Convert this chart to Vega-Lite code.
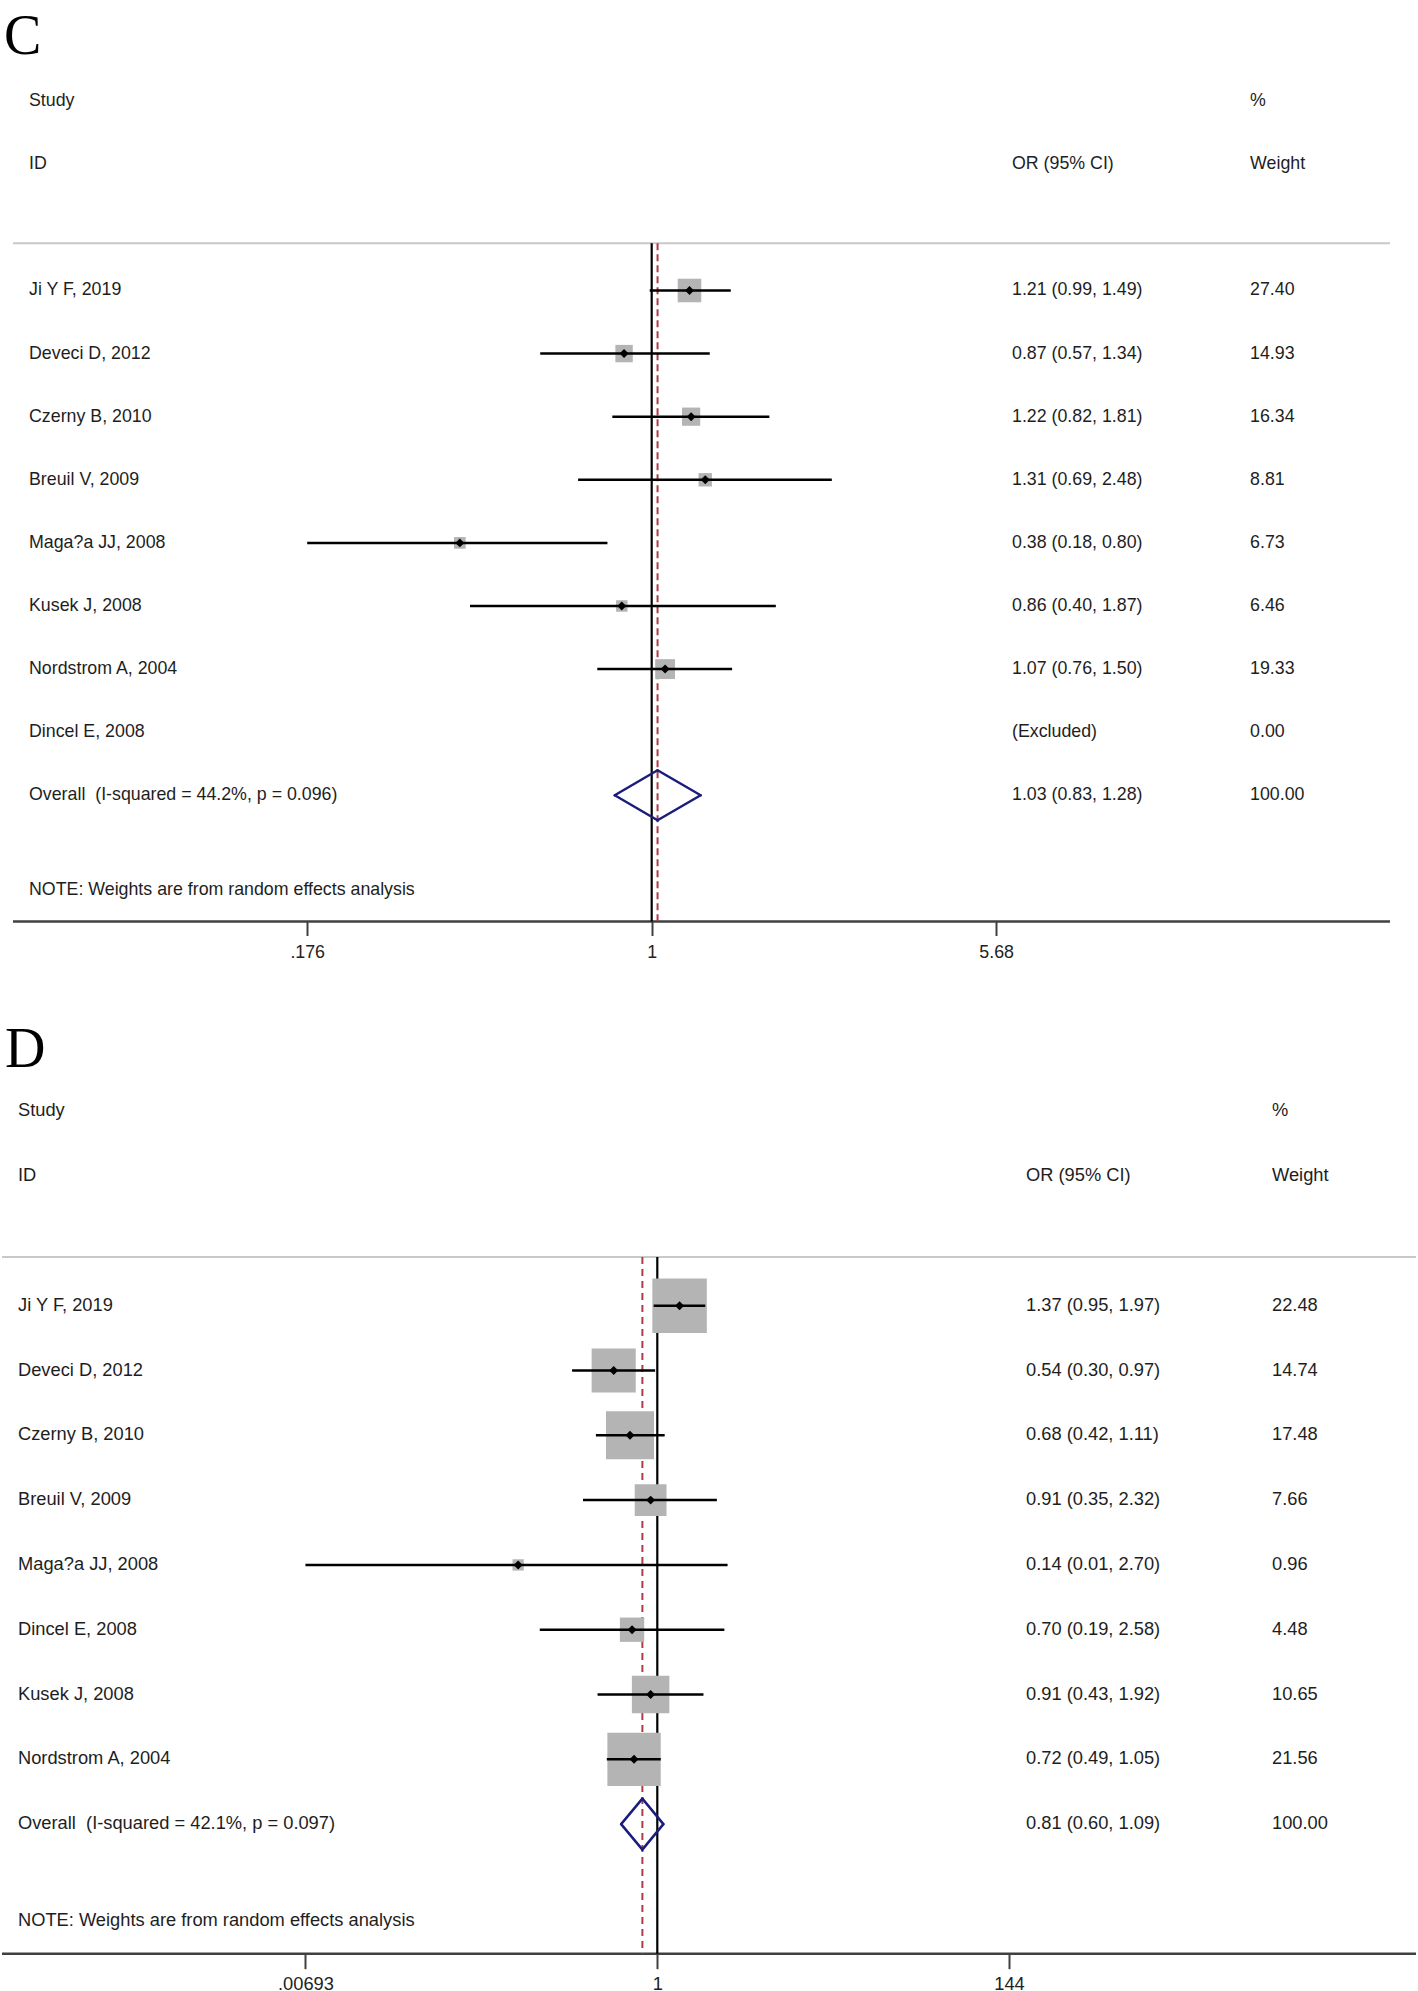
{
  "$schema": "https://vega.github.io/schema/vega-lite/v6.json",
  "padding": {"top": 8, "left": 0, "right": 0, "bottom": 0},
  "background": "white",
  "bounds": "flush",
  "spacing": 156,
  "resolve": {"scale": {"size": "independent"}},
  "config": {"view": {"stroke": null}},
  "datasets": {
    "rows": [
      {"panel": "C", "type": "study", "study": "Ji Y F, 2019", "or": 1.21, "lo": 0.99, "hi": 1.49, "weight": 27.40, "ci": "1.21 (0.99, 1.49)"},
      {"panel": "C", "type": "study", "study": "Deveci D, 2012", "or": 0.87, "lo": 0.57, "hi": 1.34, "weight": 14.93, "ci": "0.87 (0.57, 1.34)"},
      {"panel": "C", "type": "study", "study": "Czerny B, 2010", "or": 1.22, "lo": 0.82, "hi": 1.81, "weight": 16.34, "ci": "1.22 (0.82, 1.81)"},
      {"panel": "C", "type": "study", "study": "Breuil V, 2009", "or": 1.31, "lo": 0.69, "hi": 2.48, "weight": 8.81, "ci": "1.31 (0.69, 2.48)"},
      {"panel": "C", "type": "study", "study": "Maga?a JJ, 2008", "or": 0.38, "lo": 0.176, "hi": 0.80, "weight": 6.73, "ci": "0.38 (0.18, 0.80)"},
      {"panel": "C", "type": "study", "study": "Kusek J, 2008", "or": 0.86, "lo": 0.40, "hi": 1.87, "weight": 6.46, "ci": "0.86 (0.40, 1.87)"},
      {"panel": "C", "type": "study", "study": "Nordstrom A, 2004", "or": 1.07, "lo": 0.76, "hi": 1.50, "weight": 19.33, "ci": "1.07 (0.76, 1.50)"},
      {"panel": "C", "type": "excluded", "study": "Dincel E, 2008", "weight": 0.00, "ci": "(Excluded)"},
      {"panel": "C", "type": "overall", "study": "Overall\u00a0 (I-squared = 44.2%, p = 0.096)", "or": 1.03, "lo": 0.83, "hi": 1.28, "weight": 100.00, "ci": "1.03 (0.83, 1.28)"},
      {"panel": "D", "type": "study", "study": "Ji Y F, 2019", "or": 1.37, "lo": 0.95, "hi": 1.97, "weight": 22.48, "ci": "1.37 (0.95, 1.97)"},
      {"panel": "D", "type": "study", "study": "Deveci D, 2012", "or": 0.54, "lo": 0.30, "hi": 0.97, "weight": 14.74, "ci": "0.54 (0.30, 0.97)"},
      {"panel": "D", "type": "study", "study": "Czerny B, 2010", "or": 0.68, "lo": 0.42, "hi": 1.11, "weight": 17.48, "ci": "0.68 (0.42, 1.11)"},
      {"panel": "D", "type": "study", "study": "Breuil V, 2009", "or": 0.91, "lo": 0.35, "hi": 2.32, "weight": 7.66, "ci": "0.91 (0.35, 2.32)"},
      {"panel": "D", "type": "study", "study": "Maga?a JJ, 2008", "or": 0.14, "lo": 0.00693, "hi": 2.70, "weight": 0.96, "ci": "0.14 (0.01, 2.70)"},
      {"panel": "D", "type": "study", "study": "Dincel E, 2008", "or": 0.70, "lo": 0.19, "hi": 2.58, "weight": 4.48, "ci": "0.70 (0.19, 2.58)"},
      {"panel": "D", "type": "study", "study": "Kusek J, 2008", "or": 0.91, "lo": 0.43, "hi": 1.92, "weight": 10.65, "ci": "0.91 (0.43, 1.92)"},
      {"panel": "D", "type": "study", "study": "Nordstrom A, 2004", "or": 0.72, "lo": 0.49, "hi": 1.05, "weight": 21.56, "ci": "0.72 (0.49, 1.05)"},
      {"panel": "D", "type": "overall", "study": "Overall\u00a0 (I-squared = 42.1%, p = 0.097)", "or": 0.81, "lo": 0.60, "hi": 1.09, "weight": 100.00, "ci": "0.81 (0.60, 1.09)"}
    ]
  },
  "vconcat": [
    {
      "width": 1418,
      "height": 860.5,
      "title": {"text": "C", "anchor": "start", "frame": "group", "font": "Liberation Serif", "fontSize": 56, "fontWeight": "normal", "color": "#000000", "baseline": "alphabetic", "offset": -48.5, "dx": 4},
      "data": {"name": "rows"},
      "transform": [{"filter": "datum.panel === 'C'"}],
      "encoding": {
        "y": {"field": "study", "type": "nominal", "axis": null,
              "scale": {"type": "point", "round": false, "padding": 0.8185, "align": 0.389,
                        "domain": ["Study", "ID", "_gap", "Ji Y F, 2019", "Deveci D, 2012", "Czerny B, 2010", "Breuil V, 2009", "Maga?a JJ, 2008", "Kusek J, 2008", "Nordstrom A, 2004", "Dincel E, 2008", "Overall\u00a0 (I-squared = 44.2%, p = 0.096)", "_note"]}}
      },
      "layer": [
        {"transform": [{"filter": "datum.type === 'overall'"}],
         "mark": {"type": "rule", "color": "#c8c8c8", "strokeWidth": 2, "yOffset": 15.8},
         "encoding": {"x": {"datum": 0.03992, "type": "quantitative", "scale": {"type": "log", "domain": [0.03739, 47.67], "nice": false},
              "axis": {"values": [0.176, 1, 5.68], "labelExpr": "replace(format(datum.value, '.3~r'), '0.', '.')", "domain": false, "grid": false, "ticks": true, "tickSize": 14, "tickWidth": 2, "tickColor": "#404040", "labelFont": "Liberation Sans", "labelFontSize": 17.8, "labelColor": "#222222", "labelPadding": 8, "title": null, "labelFlush": false, "labelOverlap": false}},
                      "x2": {"datum": 41.39}, "y": {"datum": "_gap"}}},
        {"transform": [{"filter": "datum.type === 'overall'"}],
         "mark": {"type": "rule", "color": "#404040", "strokeWidth": 2.5},
         "encoding": {"x": {"datum": 0.03992, "type": "quantitative"}, "x2": {"datum": 41.39}, "y": {"value": "height"}}},
        {"transform": [{"filter": "datum.type === 'overall'"}],
         "mark": {"type": "rule", "color": "#000000", "strokeWidth": 2.2, "yOffset": 15.8},
         "encoding": {"x": {"datum": 1, "type": "quantitative"}, "y": {"datum": "_gap"}, "y2": {"value": "height"}}},
        {"transform": [{"filter": "datum.type === 'overall'"}],
         "mark": {"type": "rule", "color": "#b03a46", "strokeWidth": 2, "strokeDash": [7, 4], "yOffset": 15.8},
         "encoding": {"x": {"field": "or", "type": "quantitative"}, "y": {"datum": "_gap"}, "y2": {"value": "height"}}},
        {"transform": [{"filter": "datum.type === 'study'"}],
         "mark": {"type": "point", "shape": "square", "filled": true, "color": "#b4b4b4", "opacity": 1},
         "encoding": {"x": {"field": "or", "type": "quantitative"}, "size": {"field": "weight", "type": "quantitative", "legend": null, "scale": {"domain": [0, 30], "range": [0, 609]}}}},
        {"transform": [{"filter": "datum.type === 'study'"}],
         "mark": {"type": "rule", "color": "#000000", "strokeWidth": 2.5},
         "encoding": {"x": {"field": "lo", "type": "quantitative"}, "x2": {"field": "hi"}}},
        {"transform": [{"filter": "datum.type === 'study'"}],
         "mark": {"type": "point", "shape": "diamond", "filled": true, "color": "#000000", "opacity": 1, "size": 80},
         "encoding": {"x": {"field": "or", "type": "quantitative"}}},
        {"transform": [{"filter": "datum.type === 'overall'"}],
         "mark": {"type": "rule", "color": "#1c1c7c", "strokeWidth": 2.5, "strokeCap": "round", "y2Offset": -25},
         "encoding": {"x": {"field": "lo", "type": "quantitative"}, "x2": {"field": "or"}, "y2": {"field": "study"}}},
        {"transform": [{"filter": "datum.type === 'overall'"}],
         "mark": {"type": "rule", "color": "#1c1c7c", "strokeWidth": 2.5, "strokeCap": "round", "yOffset": -25},
         "encoding": {"x": {"field": "or", "type": "quantitative"}, "x2": {"field": "hi"}, "y2": {"field": "study"}}},
        {"transform": [{"filter": "datum.type === 'overall'"}],
         "mark": {"type": "rule", "color": "#1c1c7c", "strokeWidth": 2.5, "strokeCap": "round", "y2Offset": 25},
         "encoding": {"x": {"field": "lo", "type": "quantitative"}, "x2": {"field": "or"}, "y2": {"field": "study"}}},
        {"transform": [{"filter": "datum.type === 'overall'"}],
         "mark": {"type": "rule", "color": "#1c1c7c", "strokeWidth": 2.5, "strokeCap": "round", "yOffset": 25},
         "encoding": {"x": {"field": "or", "type": "quantitative"}, "x2": {"field": "hi"}, "y2": {"field": "study"}}},
        {"mark": {"type": "text", "align": "left", "baseline": "middle", "font": "Liberation Sans", "fontSize": 17.8, "color": "#1e1e1e"},
         "encoding": {"x": {"datum": 0.04328, "type": "quantitative"}, "text": {"field": "study"}}},
        {"mark": {"type": "text", "align": "left", "baseline": "middle", "font": "Liberation Sans", "fontSize": 17.8, "color": "#1e1e1e"},
         "encoding": {"x": {"datum": 6.153, "type": "quantitative"}, "text": {"field": "ci"}}},
        {"mark": {"type": "text", "align": "left", "baseline": "middle", "font": "Liberation Sans", "fontSize": 17.8, "color": "#1e1e1e"},
         "encoding": {"x": {"datum": 20.44, "type": "quantitative"}, "text": {"field": "weight", "format": ".2f"}}},
        {"transform": [{"filter": "datum.type === 'overall'"}],
         "mark": {"type": "text", "text": "Study", "align": "left", "baseline": "middle", "font": "Liberation Sans", "fontSize": 17.8, "color": "#1e1e1e"},
         "encoding": {"x": {"datum": 0.04328, "type": "quantitative"}, "y": {"datum": "Study"}}},
        {"transform": [{"filter": "datum.type === 'overall'"}],
         "mark": {"type": "text", "text": "ID", "align": "left", "baseline": "middle", "font": "Liberation Sans", "fontSize": 17.8, "color": "#1e1e1e"},
         "encoding": {"x": {"datum": 0.04328, "type": "quantitative"}, "y": {"datum": "ID"}}},
        {"transform": [{"filter": "datum.type === 'overall'"}],
         "mark": {"type": "text", "text": "OR (95% CI)", "align": "left", "baseline": "middle", "font": "Liberation Sans", "fontSize": 17.8, "color": "#1e1e1e"},
         "encoding": {"x": {"datum": 6.153, "type": "quantitative"}, "y": {"datum": "ID"}}},
        {"transform": [{"filter": "datum.type === 'overall'"}],
         "mark": {"type": "text", "text": "%", "align": "left", "baseline": "middle", "font": "Liberation Sans", "fontSize": 17.8, "color": "#1e1e1e"},
         "encoding": {"x": {"datum": 20.44, "type": "quantitative"}, "y": {"datum": "Study"}}},
        {"transform": [{"filter": "datum.type === 'overall'"}],
         "mark": {"type": "text", "text": "Weight", "align": "left", "baseline": "middle", "font": "Liberation Sans", "fontSize": 17.8, "color": "#1e1e1e"},
         "encoding": {"x": {"datum": 20.44, "type": "quantitative"}, "y": {"datum": "ID"}}},
        {"transform": [{"filter": "datum.type === 'overall'"}],
         "mark": {"type": "text", "text": "NOTE: Weights are from random effects analysis", "align": "left", "baseline": "middle", "font": "Liberation Sans", "fontSize": 17.8, "color": "#1e1e1e", "yOffset": 31.5},
         "encoding": {"x": {"datum": 0.04328, "type": "quantitative"}, "y": {"datum": "_note"}}}
      ]
    },
    {
      "width": 1418,
      "height": 875.7,
      "title": {"text": "D", "anchor": "start", "frame": "group", "font": "Liberation Serif", "fontSize": 56, "fontWeight": "normal", "color": "#000000", "baseline": "alphabetic", "offset": -45, "dx": 5},
      "data": {"name": "rows"},
      "transform": [{"filter": "datum.panel === 'D'"}],
      "encoding": {
        "y": {"field": "study", "type": "nominal", "axis": null,
              "scale": {"type": "point", "round": false, "padding": 0.757, "align": 0.3395,
                        "domain": ["Study", "ID", "_gap", "Ji Y F, 2019", "Deveci D, 2012", "Czerny B, 2010", "Breuil V, 2009", "Maga?a JJ, 2008", "Dincel E, 2008", "Kusek J, 2008", "Nordstrom A, 2004", "Overall\u00a0 (I-squared = 42.1%, p = 0.097)", "_note"]}}
      },
      "layer": [
        {"transform": [{"filter": "datum.type === 'overall'"}],
         "mark": {"type": "rule", "color": "#c8c8c8", "strokeWidth": 2, "yOffset": 16.2},
         "encoding": {"x": {"datum": 0.00009519, "type": "quantitative", "scale": {"type": "log", "domain": [0.00009255, 46581], "nice": false},
              "axis": {"values": [0.00693, 1, 144], "labelExpr": "replace(format(datum.value, '.3~r'), '0.', '.')", "domain": false, "grid": false, "ticks": true, "tickSize": 15, "tickWidth": 2, "tickColor": "#404040", "labelFont": "Liberation Sans", "labelFontSize": 18.3, "labelColor": "#222222", "labelPadding": 7, "title": null, "labelFlush": false, "labelOverlap": false}},
                      "x2": {"datum": 45282}, "y": {"datum": "_gap"}}},
        {"transform": [{"filter": "datum.type === 'overall'"}],
         "mark": {"type": "rule", "color": "#404040", "strokeWidth": 2.5},
         "encoding": {"x": {"datum": 0.00009519, "type": "quantitative"}, "x2": {"datum": 45282}, "y": {"value": "height"}}},
        {"transform": [{"filter": "datum.type === 'overall'"}],
         "mark": {"type": "rule", "color": "#000000", "strokeWidth": 2.2, "yOffset": 16.2},
         "encoding": {"x": {"datum": 1, "type": "quantitative"}, "y": {"datum": "_gap"}, "y2": {"value": "height"}}},
        {"transform": [{"filter": "datum.type === 'overall'"}],
         "mark": {"type": "rule", "color": "#b03a46", "strokeWidth": 2, "strokeDash": [7, 5], "yOffset": 16.2},
         "encoding": {"x": {"field": "or", "type": "quantitative"}, "y": {"datum": "_gap"}, "y2": {"value": "height"}}},
        {"transform": [{"filter": "datum.type === 'study'"}],
         "mark": {"type": "point", "shape": "square", "filled": true, "color": "#b4b4b4", "opacity": 1},
         "encoding": {"x": {"field": "or", "type": "quantitative"}, "size": {"field": "weight", "type": "quantitative", "legend": null, "scale": {"domain": [0, 30], "range": [0, 3960]}}}},
        {"transform": [{"filter": "datum.type === 'study'"}],
         "mark": {"type": "rule", "color": "#000000", "strokeWidth": 2.5},
         "encoding": {"x": {"field": "lo", "type": "quantitative"}, "x2": {"field": "hi"}}},
        {"transform": [{"filter": "datum.type === 'study'"}],
         "mark": {"type": "point", "shape": "diamond", "filled": true, "color": "#000000", "opacity": 1, "size": 80},
         "encoding": {"x": {"field": "or", "type": "quantitative"}}},
        {"transform": [{"filter": "datum.type === 'overall'"}],
         "mark": {"type": "rule", "color": "#1c1c7c", "strokeWidth": 2.5, "strokeCap": "round", "y2Offset": -25.5},
         "encoding": {"x": {"field": "lo", "type": "quantitative"}, "x2": {"field": "or"}, "y2": {"field": "study"}}},
        {"transform": [{"filter": "datum.type === 'overall'"}],
         "mark": {"type": "rule", "color": "#1c1c7c", "strokeWidth": 2.5, "strokeCap": "round", "yOffset": -25.5},
         "encoding": {"x": {"field": "or", "type": "quantitative"}, "x2": {"field": "hi"}, "y2": {"field": "study"}}},
        {"transform": [{"filter": "datum.type === 'overall'"}],
         "mark": {"type": "rule", "color": "#1c1c7c", "strokeWidth": 2.5, "strokeCap": "round", "y2Offset": 25.5},
         "encoding": {"x": {"field": "lo", "type": "quantitative"}, "x2": {"field": "or"}, "y2": {"field": "study"}}},
        {"transform": [{"filter": "datum.type === 'overall'"}],
         "mark": {"type": "rule", "color": "#1c1c7c", "strokeWidth": 2.5, "strokeCap": "round", "yOffset": 25.5},
         "encoding": {"x": {"field": "or", "type": "quantitative"}, "x2": {"field": "hi"}, "y2": {"field": "study"}}},
        {"mark": {"type": "text", "align": "left", "baseline": "middle", "font": "Liberation Sans", "fontSize": 18.3, "color": "#1e1e1e"},
         "encoding": {"x": {"datum": 0.00011935, "type": "quantitative"}, "text": {"field": "study"}}},
        {"mark": {"type": "text", "align": "left", "baseline": "middle", "font": "Liberation Sans", "fontSize": 18.3, "color": "#1e1e1e"},
         "encoding": {"x": {"datum": 183.07, "type": "quantitative"}, "text": {"field": "ci"}}},
        {"mark": {"type": "text", "align": "left", "baseline": "middle", "font": "Liberation Sans", "fontSize": 18.3, "color": "#1e1e1e"},
         "encoding": {"x": {"datum": 5919, "type": "quantitative"}, "text": {"field": "weight", "format": ".2f"}}},
        {"transform": [{"filter": "datum.type === 'overall'"}],
         "mark": {"type": "text", "text": "Study", "align": "left", "baseline": "middle", "font": "Liberation Sans", "fontSize": 18.3, "color": "#1e1e1e"},
         "encoding": {"x": {"datum": 0.00011935, "type": "quantitative"}, "y": {"datum": "Study"}}},
        {"transform": [{"filter": "datum.type === 'overall'"}],
         "mark": {"type": "text", "text": "ID", "align": "left", "baseline": "middle", "font": "Liberation Sans", "fontSize": 18.3, "color": "#1e1e1e"},
         "encoding": {"x": {"datum": 0.00011935, "type": "quantitative"}, "y": {"datum": "ID"}}},
        {"transform": [{"filter": "datum.type === 'overall'"}],
         "mark": {"type": "text", "text": "OR (95% CI)", "align": "left", "baseline": "middle", "font": "Liberation Sans", "fontSize": 18.3, "color": "#1e1e1e"},
         "encoding": {"x": {"datum": 183.07, "type": "quantitative"}, "y": {"datum": "ID"}}},
        {"transform": [{"filter": "datum.type === 'overall'"}],
         "mark": {"type": "text", "text": "%", "align": "left", "baseline": "middle", "font": "Liberation Sans", "fontSize": 18.3, "color": "#1e1e1e"},
         "encoding": {"x": {"datum": 5919, "type": "quantitative"}, "y": {"datum": "Study"}}},
        {"transform": [{"filter": "datum.type === 'overall'"}],
         "mark": {"type": "text", "text": "Weight", "align": "left", "baseline": "middle", "font": "Liberation Sans", "fontSize": 18.3, "color": "#1e1e1e"},
         "encoding": {"x": {"datum": 5919, "type": "quantitative"}, "y": {"datum": "ID"}}},
        {"transform": [{"filter": "datum.type === 'overall'"}],
         "mark": {"type": "text", "text": "NOTE: Weights are from random effects analysis", "align": "left", "baseline": "middle", "font": "Liberation Sans", "fontSize": 18.3, "color": "#1e1e1e", "yOffset": 32.4},
         "encoding": {"x": {"datum": 0.00011935, "type": "quantitative"}, "y": {"datum": "_note"}}}
      ]
    }
  ]
}
